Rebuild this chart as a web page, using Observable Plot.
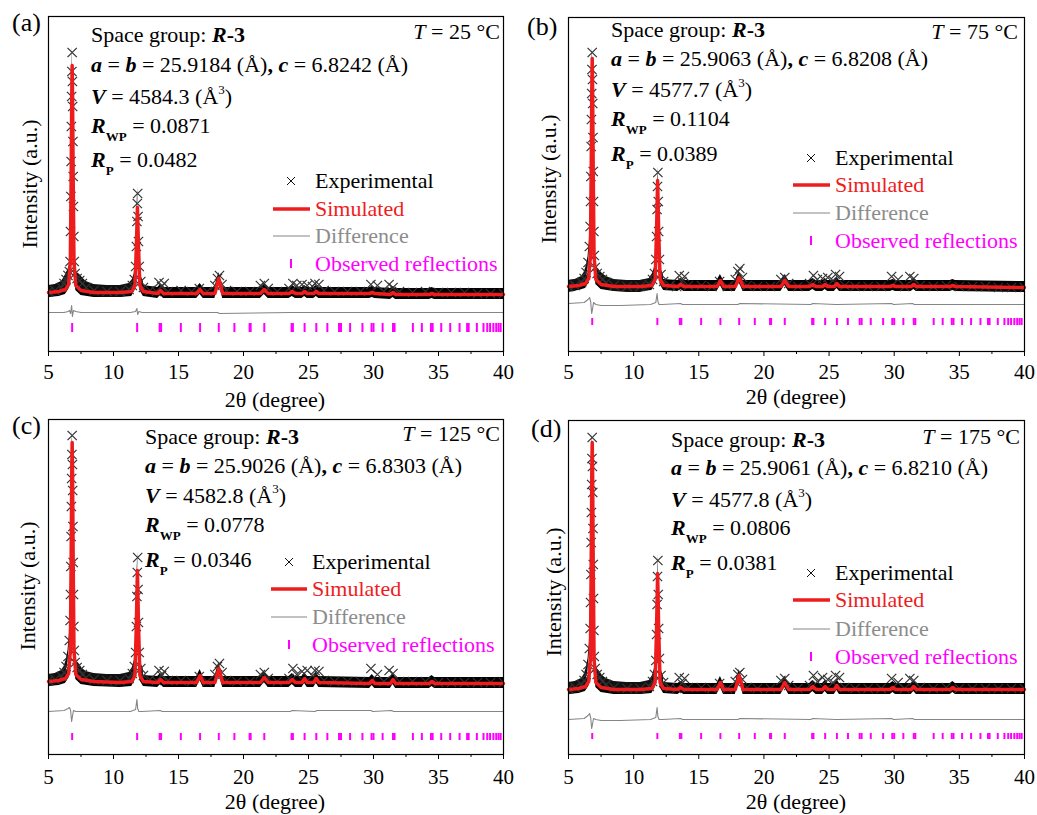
<!DOCTYPE html>
<html><head><meta charset="utf-8">
<script src="https://cdn.jsdelivr.net/npm/d3@7"></script>
<script src="https://cdn.jsdelivr.net/npm/@observablehq/plot@0.6"></script>
<style>
body{margin:0;background:#fff;}
#wrap{position:relative;width:1037px;height:815px;overflow:hidden;background:#fff;font-family:"Liberation Serif","Times New Roman",serif;}
#wrap svg.pnl{position:absolute;}
#overlay{position:absolute;left:0;top:0;pointer-events:none;}
</style></head><body><div id="wrap"></div>
<script>
// ---- data (intensity in arbitrary units) ----
const majorTicks = [5, 10, 15, 20, 25, 30, 35, 40];
const minorTicks = [7.5, 12.5, 17.5, 22.5, 27.5, 32.5, 37.5];

const panelIds = ["(a)", "(b)", "(c)", "(d)"];
const temps = ["25", "75", "125", "175"];
const aParam = ["25.9184", "25.9063", "25.9026", "25.9061"];
const cParam = ["6.8242", "6.8208", "6.8303", "6.8210"];
const volume = ["4584.3", "4577.7", "4582.8", "4577.8"];
const rwp = ["0.0871", "0.1104", "0.0778", "0.0806"];
const rp = ["0.0482", "0.0389", "0.0346", "0.0381"];

// observed reflection positions (2θ)
const reflections = [6.82, 11.82, 13.55, 13.66, 15.18, 16.66, 18.10, 19.30, 20.47, 20.55, 21.60, 23.70, 23.80, 24.70, 25.60, 26.45, 27.35, 27.50, 28.20, 29.15, 29.85, 30.00, 30.70, 31.50, 31.62, 33.03, 33.72, 34.42, 34.55, 35.21, 35.90, 36.62, 37.20, 37.32, 37.95, 38.46, 38.75, 38.97, 39.22, 39.44, 39.62, 39.78];

// simulated profile
const simX = [5, 5.8, 6.3, 6.55, 6.68, 6.74, 6.79, 6.82, 6.85, 6.90, 6.96, 7.1, 7.5, 8.5, 10.5, 11.4, 11.65, 11.76, 11.84, 11.92, 12.03, 12.3, 13.4, 13.62, 13.85, 16.4, 16.66, 16.9, 17.8, 18.1, 18.4, 21.3, 21.6, 21.9, 23.5, 23.75, 24.0, 24.5, 24.7, 24.9, 25.4, 25.6, 25.8, 29.7, 29.9, 30.1, 31.3, 31.5, 31.7, 34.3, 34.5, 34.7, 40];
const simA = [59,60,62,67,90,170,256,286,256,170, 90,66,61,59,59,60,66,105,144,105, 66,60,58,61,58,58,62,58,58,73, 58,58,62,58,58,60,58,58,60,58, 58,60,58,58,59,58,57,59,57,57, 58,57,57];
const simB = [65,66,68,73,96,176,263,293,263,176, 96,72,67,65,65,66,72,121,171,121, 72,66,65,67,65,65,71,65,65,74, 65,65,71,65,65,67,65,65,67,65, 65,68,65,65,66,65,65,67,65,65, 66,65,64];
const simC = [73,74,76,81,104,190,282,312,282,190, 104,80,75,73,72,73,79,131,184,131, 79,73,72,75,72,72,79,72,72,86, 72,72,77,72,72,75,72,72,76,72, 72,76,72,71,74,71,71,75,71,71, 73,71,71];
const simD = [65,66,68,73,96,185,282,312,282,185, 96,72,67,65,65,66,72,126,181,126, 72,66,65,67,65,65,72,65,65,79, 65,65,72,65,65,68,65,65,68,65, 65,69,65,65,67,65,65,68,65,65, 67,65,65];

// experimental points
const expX = [5.0, 5.5, 6.0, 6.2, 6.35, 6.5, 6.6, 6.66, 6.69, 6.72, 6.74, 6.76, 6.78, 6.80, 6.82, 6.84, 6.86, 6.88, 6.90, 6.92, 6.95, 6.98, 7.05, 7.2, 7.4, 7.6, 7.9, 8.5, 9.5, 10.5, 11.2, 11.45, 11.6, 11.7, 11.76, 11.80, 11.83, 11.86, 11.89, 11.92, 11.98, 12.1, 12.3, 12.8, 13.3, 13.5, 13.7, 13.9, 14.2, 15.2, 16.0, 16.6, 17.2, 17.8, 18.0, 18.15, 18.35, 18.7, 19.5, 20.5, 21.3, 21.6, 21.9, 22.6, 23.5, 23.8, 24.1, 24.5, 24.9, 25.3, 25.5, 25.8, 26.2, 27.0, 28.0, 29.0, 29.8, 30.3, 30.8, 31.2, 31.5, 32.0, 33.0, 34.0, 35.0, 36.0, 37.0, 38.0, 39.0, 40.0];
const expA = [60,61,64,68,72,76,80,90,120,155, 190,225,255,280,299,270,245,210,175,145, 115,90,78,73,71,68,64,61,60,60, 62,66,72,85,105,130,148,158,135,110, 85,70,64,61,60,69,65,68,60,61, 60,63,60,66,73,76,67,61,60,60, 66,68,63,60,63,68,66,67,66,65, 68,67,61,60,60,60,67,66,60,67, 64,60,59,60,59,59,59,58,58,58];
const expB = [65,66,69,73,79,89,105,125,150,175, 205,232,258,282,299,272,248,214,180,150, 120,96,84,78,75,72,69,66,65,65, 67,72,78,92,115,142,165,179,150,120, 92,77,70,66,65,76,70,75,66,66, 65,70,65,72,80,83,74,66,65,65, 72,74,68,65,68,76,72,73,74,71, 77,75,66,65,65,65,75,72,65,75, 73,66,65,66,65,65,65,64,64,64];
const expC = [74,75,78,82,88,98,114,134,160,188, 218,248,276,300,319,290,264,228,192,160, 128,104,92,87,84,80,77,75,74,74, 76,81,88,102,128,158,182,197,165,132, 102,86,79,75,74,84,79,83,74,74, 73,78,73,80,88,91,82,74,73,73, 80,82,76,73,76,86,80,83,84,79, 84,83,74,73,73,73,86,80,73,84, 81,73,73,73,72,72,72,72,72,72];
const expD = [66,67,70,74,80,90,106,126,152,180, 212,242,270,296,317,288,262,226,190,156, 124,98,86,80,77,73,70,67,66,66, 68,73,80,94,120,150,178,194,160,126, 96,79,72,67,66,77,71,76,67,67, 66,71,66,73,80,82,75,67,66,66, 74,76,69,66,69,79,73,77,75,72, 79,77,67,66,66,66,76,72,66,76, 74,67,66,67,66,66,66,66,66,66];

// difference curve (offset)
const diffX = [5, 6.2, 6.5, 6.62, 6.7, 6.78, 6.84, 6.92, 7.1, 7.5, 9.0, 11.3, 11.7, 11.8, 11.86, 11.95, 12.2, 13.6, 13.75, 18.0, 18.15, 23.6, 23.75, 25.5, 25.65, 29.8, 29.95, 31.4, 31.55, 40];
const diffA = [39,39,40,41,38,46,35,41,40,39, 39,39,40,43,37,40,39,39,39,39, 38,39,39,39,39,39,39,39,39,39];
const diffB = [48,49,52,54,50,38,42,49,47,46, 46,47,49,58,50,47,47,48,47,47, 48,47,48,47,47,48,47,48,47,47];
const diffC = [43,44,46,47,44,33,38,44,43,43, 43,43,45,55,46,43,43,44,43,43, 43,43,44,43,44,44,43,44,43,43];
const diffD = [35,36,39,41,37,26,30,36,35,34, 34,35,37,47,38,35,35,36,35,35, 36,35,36,35,35,36,35,36,35,35];

// ---- layout ----
const RED = "#ee1c1c", GRAY = "#858585", MAG = "#ff00ff";
const panels = [
  {sim: simA, exp: expA, diff: diffA, left: 0, top: 0, width: 518, mL: 48, mR: 15, mT: 16, mB: 59, tick: [19, 28], pad: 8,
   lab: [12, 31], infoX: 91, infoBL: [42, 72, 104, 133, 167], tR: 500, tBL: 39,
   legText: 315, legSym: 291, legLine: [273, 310], legBL: [188, 216, 243, 271], yl: [29, 184], xl: [275, 407]},
  {sim: simB, exp: expB, diff: diffB, left: 518, top: 0, width: 519, mL: 50, mR: 13, mT: 17, mB: 59, tick: [26, 33], pad: 8,
   lab: [527, 35], infoX: 611, infoBL: [37, 66, 97, 126, 161], tR: 1018, tBL: 39,
   legText: 835, legSym: 811, legLine: [793, 830], legBL: [165, 192, 220, 248], yl: [548, 179], xl: [796, 404]},
  {sim: simC, exp: expC, diff: diffC, left: 0, top: 405, width: 518, mL: 48, mR: 15, mT: 14, mB: 61, tick: [14, 21], pad: 10,
   lab: [12, 434], infoX: 145, infoBL: [444, 473, 503, 532, 567], tR: 500, tBL: 441,
   legText: 312, legSym: 289, legLine: [271, 307], legBL: [569, 596, 624, 652], yl: [27, 586], xl: [275, 809]},
  {sim: simD, exp: expD, diff: diffD, left: 518, top: 405, width: 519, mL: 50, mR: 13, mT: 15, mB: 61, tick: [15, 21], pad: 10,
   lab: [531, 437], infoX: 671, infoBL: [447, 475, 507, 535, 570], tR: 1020, tBL: 444,
   legText: 835, legSym: 811, legLine: [793, 830], legBL: [580, 607, 636, 664], yl: [553, 592], xl: [796, 809]}
];

const wrap = document.getElementById("wrap");

panels.forEach((p) => {
  const H = 410;
  const inner = H - p.mT - p.mB;
  const exp = expX.map((x, i) => ({x, y: p.exp[i]}));
  const sim = simX.map((x, i) => ({x, y: p.sim[i]}));
  const diff = diffX.map((x, i) => ({x, y: p.diff[i]}));
  const lowAngle = exp.filter(d => d.x <= 12.6);
  const marks = [
    // dense experimental markers rendered as a band around the profile
    Plot.areaY(sim, {x: "x", y1: d => d.y - 5, y2: d => d.y + 6, fill: "#000", clip: true}),
    Plot.areaY(lowAngle, {x: "x", y1: d => d.y - 6, y2: d => d.y + 6, fill: "#111", clip: true}),
    Plot.dot(exp, {x: "x", y: "y", symbol: "times", r: 4.3, stroke: "#333", strokeWidth: 1.2, clip: true}),
    Plot.line(diff, {x: "x", y: "y", stroke: GRAY, strokeWidth: 1.1}),
    Plot.ruleX(reflections, {x: d => d, y1: () => p.tick[0], y2: () => p.tick[1], stroke: MAG, strokeWidth: 2}),
    Plot.line(sim, {x: "x", y: "y", stroke: RED, strokeWidth: 3.5}),
    Plot.axisX({ticks: majorTicks, tickSize: 5, tickPadding: p.pad, label: null, fontSize: 21, tickFormat: d => String(d)}),
    Plot.axisX({ticks: minorTicks, tickSize: 3, tickFormat: () => "", label: null}),
    Plot.frame({stroke: "#000", strokeWidth: 1.2})
  ];
  const chart = Plot.plot({
    width: p.width, height: H,
    marginLeft: p.mL, marginRight: p.mR, marginTop: p.mT, marginBottom: p.mB,
    style: {fontFamily: "'Liberation Serif', serif", fontSize: "21px", background: "transparent", color: "#000", overflow: "visible"},
    x: {domain: [5, 40]},
    y: {domain: [0, inner], axis: null},
    marks
  });
  chart.classList.add("pnl");
  chart.style.left = p.left + "px";
  chart.style.top = p.top + "px";
  wrap.appendChild(chart);
});

// ---- overlay texts ----
const BI = 'font-weight="bold" font-style="italic"';
let s = `<svg id="overlay" width="1037" height="815" xmlns="http://www.w3.org/2000/svg" font-family="Liberation Serif, Times New Roman, serif" fill="#000">`;
panels.forEach((p, i) => {
  const x = p.infoX, b = p.infoBL;
  s += `<text x="${p.lab[0]}" y="${p.lab[1]}" font-size="26">${panelIds[i]}</text>`;
  s += `<text x="${x}" y="${b[0]}" font-size="22">Space group: <tspan ${BI}>R</tspan><tspan font-weight="bold">-3</tspan></text>`;
  s += `<text x="${x}" y="${b[1]}" font-size="22"><tspan ${BI}>a</tspan> = <tspan ${BI}>b</tspan> = ${aParam[i]} (Å)<tspan font-weight="bold">,</tspan> <tspan ${BI}>c</tspan> = ${cParam[i]} (Å)</text>`;
  s += `<text x="${x}" y="${b[2]}" font-size="22"><tspan ${BI}>V</tspan> = ${volume[i]} (Å<tspan font-size="13" dy="-10">3</tspan><tspan dy="10">)</tspan></text>`;
  s += `<text x="${x}" y="${b[3]}" font-size="22"><tspan ${BI}>R</tspan><tspan font-size="13" font-weight="bold" dy="8">WP</tspan><tspan dy="-8"> = ${rwp[i]}</tspan></text>`;
  s += `<text x="${x}" y="${b[4]}" font-size="22"><tspan ${BI}>R</tspan><tspan font-size="13" font-weight="bold" dy="8">P</tspan><tspan dy="-8"> = ${rp[i]}</tspan></text>`;
  s += `<text x="${p.tR}" y="${p.tBL}" font-size="22" text-anchor="end"><tspan font-style="italic">T</tspan> = ${temps[i]} °C</text>`;
  // legend
  const L = p.legBL, sx = p.legSym;
  const cy = L[0] - 7;
  s += `<path d="M${sx - 4},${cy - 4}L${sx + 4},${cy + 4}M${sx - 4},${cy + 4}L${sx + 4},${cy - 4}" stroke="#111" stroke-width="1"/>`;
  s += `<text x="${p.legText}" y="${L[0]}" font-size="22">Experimental</text>`;
  s += `<line x1="${p.legLine[0]}" x2="${p.legLine[1]}" y1="${L[1] - 7}" y2="${L[1] - 7}" stroke="${RED}" stroke-width="3.5"/>`;
  s += `<text x="${p.legText}" y="${L[1]}" font-size="22" fill="${RED}">Simulated</text>`;
  s += `<line x1="${p.legLine[0]}" x2="${p.legLine[1]}" y1="${L[2] - 7}" y2="${L[2] - 7}" stroke="${GRAY}" stroke-width="1.2"/>`;
  s += `<text x="${p.legText}" y="${L[2]}" font-size="22" fill="#8c8c8c">Difference</text>`;
  s += `<line x1="${sx}" x2="${sx}" y1="${L[3] - 12}" y2="${L[3] - 3}" stroke="${MAG}" stroke-width="2"/>`;
  s += `<text x="${p.legText}" y="${L[3]}" font-size="22" fill="${MAG}">Observed reflections</text>`;
  // axis titles
  s += `<text transform="translate(${p.yl[0]},${p.yl[1]}) rotate(-90)" text-anchor="middle" dominant-baseline="central" font-size="22">Intensity (a.u.)</text>`;
  s += `<text x="${p.xl[0]}" y="${p.xl[1]}" text-anchor="middle" font-size="22">2θ (degree)</text>`;
});
s += `</svg>`;
wrap.insertAdjacentHTML("beforeend", s);
</script></body></html>
